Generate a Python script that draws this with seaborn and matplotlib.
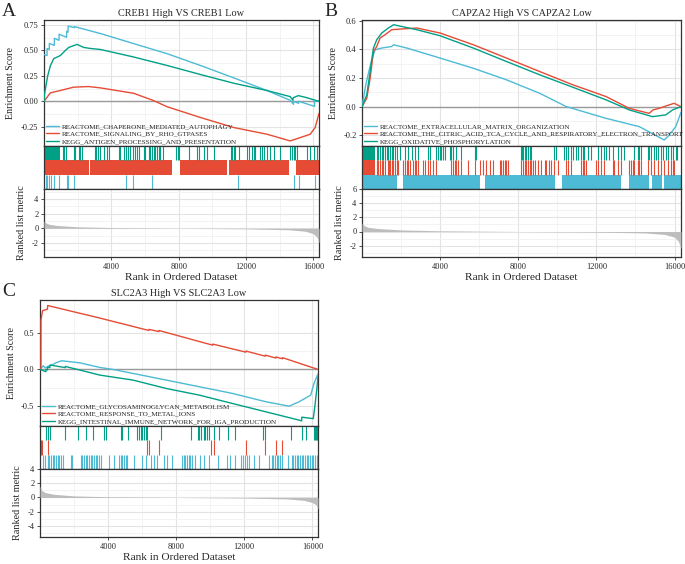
import numpy as np
import pandas as pd
import matplotlib
matplotlib.use("Agg")
import matplotlib.pyplot as plt
from matplotlib.ticker import MultipleLocator, FixedLocator
import seaborn as sns

# Paleta y estilo
sns.set_theme(style="whitegrid")
plt.rcParams['font.family'] = ['Liberation Serif', 'DejaVu Serif']
plt.rcParams['axes.unicode_minus'] = False

BLUE, RED, GREEN = '#4DBBD5', '#E64B35', '#00A087'
N_GENES = 16330

# ------------------------------------------------------------------
# Panel A : CREB1
a_title = "CREB1 High VS CREB1 Low"
a_sets = ["REACTOME_CHAPERONE_MEDIATED_AUTOPHAGY",
          "REACTOME_SIGNALING_BY_RHO_GTPASES",
          "KEGG_ANTIGEN_PROCESSING_AND_PRESENTATION"]

a_blue_rank = [1, 180, 185, 315, 320, 610, 620, 890, 900, 1340, 1350, 1425, 1435, 1800, 1810,
               3350, 5320, 7300, 9280, 11260, 13240, 14620, 14815, 14820, 15115, 15120, 16065, 16070, 16330]
a_blue_es = [0.46, 0.45, 0.52, 0.51, 0.57, 0.55, 0.62, 0.60, 0.66, 0.63, 0.69, 0.68, 0.74, 0.725, 0.735,
             0.667, 0.568, 0.469, 0.353, 0.231, 0.106, 0.01, -0.03, 0.0, -0.02, 0.0, -0.05, 0.0, 0.0]
a_red_rank = [1, 380, 970, 1760, 2650, 3350, 5320, 6510, 7300, 9280, 11260, 13240, 14620, 15220,
              15810, 16100, 16330]
a_red_es = [0.0, 0.083, 0.106, 0.139, 0.145, 0.132, 0.079, 0.007, -0.053, -0.159, -0.258, -0.324,
            -0.39, -0.357, -0.324, -0.258, -0.12]
a_green_rank = [1, 30, 220, 380, 580, 970, 1270, 1470, 1960, 2360, 2750, 3350, 5320, 7300, 9280,
                11260, 13240, 14620, 14780, 14800, 15100, 15500, 16330]
a_green_es = [0.0, 0.07, 0.25, 0.35, 0.42, 0.45, 0.50, 0.53, 0.56, 0.53, 0.52, 0.51, 0.436, 0.353,
              0.264, 0.178, 0.106, 0.046, 0.01, 0.035, 0.056, 0.04, 0.0]

a_green_hits = [1133, 1212, 1331, 1766, 1847, 2063, 2162, 2261, 3013, 3112, 3192, 3311, 3548, 3746,
                3845, 4439, 4538, 4776, 4895, 4974, 5093, 5291, 5430, 5529, 5648, 5925, 6024, 6242,
                6321, 6420, 6519, 6598, 6717, 6816, 6915, 7073, 7865, 7944, 8004, 8598, 9093, 9192,
                9489, 9687, 10082, 11112, 11191, 11270, 11369, 11567, 12062, 12161, 12359, 12458,
                12557, 12854, 12953, 13092, 13250, 13448, 13646, 14042, 14636, 14735, 14834, 14933,
                15032, 15626, 15824, 16022, 16220]
a_green_blocks = [(24, 974)]
a_red_hits = []
a_red_blocks = [(1, 2650), (2750, 7600), (8100, 10850), (10970, 14550), (14950, 16330)]
a_blue_hits = [101, 184, 320, 440, 617, 896, 1347, 1430, 1804, 4890, 5264, 6416, 11494, 14820,
               15117, 16067]
a_blue_blocks = []

a_metric_rank = [1, 100, 300, 800, 2000, 4000, 8000, 12000, 14500, 15500, 16000, 16200, 16330]
a_metric = [1.0, 0.75, 0.55, 0.38, 0.2, 0.1, 0.0, -0.08, -0.2, -0.4, -0.75, -1.2, -2.0]

# ------------------------------------------------------------------
# Panel B : CAPZA2
b_title = "CAPZA2 High VS CAPZA2 Low"
b_sets = ["REACTOME_EXTRACELLULAR_MATRIX_ORGANIZATION",
          "REACTOME_THE_CITRIC_ACID_TCA_CYCLE_AND_RESPIRATORY_ELECTRON_TRANSPORT",
          "KEGG_OXIDATIVE_PHOSPHORYLATION"]

b_blue_rank = [1, 194, 331, 499, 673, 1010, 1519, 1620, 2300, 4000, 5700, 7400, 9100, 10460, 12500,
               14200, 15470, 15720, 16060, 16330]
b_blue_es = [0.0, 0.152, 0.234, 0.327, 0.397, 0.409, 0.42, 0.432, 0.409, 0.339, 0.268, 0.187, 0.093,
             0.0, -0.082, -0.14, -0.233, -0.2, -0.14, -0.04]
b_red_rank = [1, 245, 418, 586, 755, 925, 1180, 1520, 2000, 2810, 4000, 5700, 7400, 9100, 10800,
              12500, 13680, 14700, 14900, 15215, 15720, 15980, 16330]
b_red_es = [0.0, 0.059, 0.199, 0.385, 0.42, 0.479, 0.502, 0.537, 0.542, 0.549, 0.514, 0.432, 0.339,
            0.245, 0.152, 0.07, -0.012, -0.047, -0.023, -0.012, 0.012, 0.023, 0.0]
b_green_rank = [1, 245, 418, 586, 755, 1010, 1350, 1620, 2810, 4000, 5700, 7400, 9100, 10800, 12500,
                13680, 14870, 15550, 15900, 16330]
b_green_es = [0.0, 0.082, 0.245, 0.409, 0.467, 0.514, 0.549, 0.572, 0.537, 0.495, 0.409, 0.315,
              0.222, 0.135, 0.047, -0.023, -0.07, -0.058, -0.023, 0.0]

b_green_hits = [747, 832, 917, 1002, 1088, 1173, 1258, 1343, 1428, 1513, 1598, 1683, 1768, 1939,
                2194, 2364, 2535, 2705, 2875, 3385, 3470, 3811, 3896, 3981, 4066, 4151, 4236, 4491,
                4577, 4662, 4832, 5087, 5768, 5853, 8117, 8185, 8253, 8321, 8407, 8492, 8577, 8662,
                9854, 9939, 10364, 10449, 10534, 10705, 10790, 10960, 11045, 11216, 11301, 11386,
                11556, 11726, 12066, 12237, 12407, 12492, 12662, 12833, 13088, 13258, 13428, 13939,
                14109, 14194, 14279, 14619, 14704, 14789, 14959, 15044, 15129, 15299, 15384, 15554,
                15640, 15810, 15895, 16065, 16150]
b_green_blocks = [(66, 662)]
b_red_hits = [747, 832, 917, 1002, 1088, 1173, 1343, 1377, 1428, 1513, 1598, 1683, 1768, 1854, 2109,
              2194, 2279, 2364, 2449, 2620, 2705, 2790, 2875, 3130, 3215, 3385, 3470, 3641, 3811,
              4577, 4662, 4747, 4832, 4917, 5087, 5428, 5768, 6023, 6193, 6364, 6534, 6704, 7045,
              7130, 7215, 7300, 7385, 7470, 8151, 8236, 8321, 8407, 8492, 8577, 8662, 8747, 8832,
              9002, 9173, 9343, 9428, 9598, 9684, 9854, 10024, 10449, 10534, 10705, 11216, 11301,
              11386, 11471, 11981, 12066, 12237, 12407, 12833, 12918, 13088, 13258, 13684, 13769,
              13854, 13939, 14109, 14194, 14279, 14619, 14789, 14959, 15129, 15299, 15469, 15640,
              15810, 15895, 15980]
b_red_blocks = [(66, 662)]
b_blue_hits = []
b_blue_blocks = [(15, 1770), (2110, 6030), (6280, 9860), (10250, 13260), (13680, 14700),
                 (14870, 15350), (15470, 16330)]

b_metric_rank = [1, 100, 300, 800, 2000, 4000, 8000, 12000, 14500, 15500, 16000, 16200, 16330]
b_metric = [1.2, 0.85, 0.6, 0.42, 0.22, 0.1, 0.0, -0.08, -0.2, -0.42, -0.8, -1.4, -2.4]

# ------------------------------------------------------------------
# Panel C : SLC2A3
c_title = "SLC2A3 High VS SLC2A3 Low"
c_sets = ["REACTOME_GLYCOSAMINOGLYCAN_METABOLISM",
          "REACTOME_RESPONSE_TO_METAL_IONS",
          "KEGG_INTESTINAL_IMMUNE_NETWORK_FOR_IGA_PRODUCTION"]

c_blue_rank = [1, 195, 312, 450, 740, 937, 1270, 2340, 3510, 4290, 7410, 9365, 11316, 13267, 14633,
               15218, 15900, 16095, 16330]
c_blue_es = [0.0, 0.05, 0.02, 0.04, 0.065, 0.09, 0.118, 0.09, 0.027, 0.0, -0.145, -0.236, -0.327,
             -0.44, -0.5, -0.44, -0.35, -0.19, -0.06]
c_red_rank = [1, 55, 60, 150, 440, 450, 3500, 6400, 6405, 6985, 6990, 10146, 10150, 12096, 12100,
              13228, 13232, 13852, 13856, 14242, 14246, 16330]
c_red_es = [0.0, 0.0, 0.67, 0.80, 0.82, 0.87, 0.70, 0.53, 0.545, 0.515, 0.53, 0.33, 0.345, 0.235,
            0.25, 0.18, 0.195, 0.155, 0.17, 0.145, 0.16, 0.0]
c_green_rank = [1, 350, 355, 445, 450, 580, 590, 1480, 1490, 2200, 3510, 5460, 7410, 9365, 11316,
                13267, 15218, 15370, 15380, 16050, 16120, 16270, 16330]
c_green_es = [0.0, -0.03, 0.0, -0.005, 0.03, 0.025, 0.06, 0.025, 0.04, 0.0, -0.077, -0.145, -0.259,
              -0.35, -0.464, -0.577, -0.69, -0.70, -0.65, -0.67, -0.55, -0.25, -0.1]

c_green_hits = [351, 449, 585, 1483, 2205, 2731, 3122, 3765, 3902, 4741, 4838, 5190, 5716, 5814,
                5912, 6009, 6107, 6204, 6302, 7082, 8897, 9287, 9365, 9482, 9619, 9716, 9814, 9911,
                10204, 10535, 11043, 11433, 13072, 13189, 14750, 15374, 15608, 16116, 16155, 16213,
                16272]
c_green_blocks = []
c_red_hits = [59, 117, 449, 6302, 6400, 6985, 10048, 10204, 12096, 13228, 13852, 14242]
c_red_blocks = []
c_blue_hits = [195, 312, 449, 546, 644, 741, 839, 937, 1034, 1132, 1229, 1327, 1814, 1873, 2400,
               2497, 2595, 2692, 2790, 2887, 2985, 3083, 3180, 3278, 3375, 3473, 3570, 4058, 4351,
               4643, 4741, 4838, 4936, 5034, 5131, 5521, 6009, 6204, 6497, 6692, 6887, 7277, 7472,
               7765, 8350, 8448, 8545, 8643, 8740, 8838, 8936, 9131, 9423, 9619, 9911, 10457, 10984,
               11179, 11472, 11823, 11901, 12018, 12155, 12253, 12545, 12838, 13423, 13618, 13716,
               13813, 13911, 14009, 14106, 14204, 14594, 14789, 14887, 14984, 15082, 15179, 15277,
               15374, 15472, 15569, 15667, 15764, 15862, 15959, 16057, 16155, 16252, 16320]
c_blue_blocks = []

c_metric_rank = [1, 100, 300, 800, 2000, 4000, 8000, 12000, 14500, 15500, 16000, 16200, 16330]
c_metric = [1.6, 1.0, 0.7, 0.45, 0.22, 0.1, 0.0, -0.08, -0.2, -0.4, -0.7, -1.0, -1.6]

# ------------------------------------------------------------------
W, H = 685, 564
fig = plt.figure(figsize=(W / 100, H / 100), dpi=100)
fig.patch.set_facecolor('white')


def caja(l, t, r, b):
    return [l / W, 1 - b / H, (r - l) / W, (b - t) / H]


def estilo(ax):
    for s in ax.spines.values():
        s.set_color('#333333')
        s.set_linewidth(0.9)
    ax.set_facecolor('white')


def panel(x0, x1, y0, title, sets, curvas, hits, blocks, m_rank, m_val,
          es_lim, es_ticks, es_fmt, m_lim, m_ticks):
    y1, y2, y3 = y0 + 126, y0 + 169, y0 + 237
    ax_es = fig.add_axes(caja(x0, y0, x1, y1))
    ax_hit = fig.add_axes(caja(x0, y1, x1, y2))
    ax_m = fig.add_axes(caja(x0, y2, x1, y3))

    # Curvas de enriquecimiento
    filas = []
    for nombre, (rk, es) in zip(sets, curvas):
        filas.append(pd.DataFrame({'rank': rk, 'es': es, 'set': nombre}))
    df = pd.concat(filas, ignore_index=True)
    estilo(ax_es)
    ax_es.axhline(0, color='#9a9a9a', lw=1.0, zorder=1)
    sns.lineplot(data=df, x='rank', y='es', hue='set', hue_order=sets,
                 palette=[BLUE, RED, GREEN], estimator=None, sort=False,
                 lw=1.0, ax=ax_es, zorder=3)
    h, l = ax_es.get_legend_handles_labels()
    ax_es.legend(h, l, loc='lower left', frameon=False, fontsize=5.15,
                 handlelength=1.9, handletextpad=0.4, labelspacing=0.2,
                 borderaxespad=0.15, borderpad=0.1)
    ax_es.set_xlim(1, N_GENES)
    ax_es.set_ylim(*es_lim)
    ax_es.set_yticks(es_ticks)
    ax_es.set_yticklabels([es_fmt.format(v) for v in es_ticks])
    ax_es.yaxis.set_minor_locator(FixedLocator(
        [(a + b) / 2 for a, b in zip(es_ticks[:-1], es_ticks[1:])]))
    ax_es.xaxis.set_major_locator(MultipleLocator(4000))
    ax_es.xaxis.set_minor_locator(MultipleLocator(2000))
    ax_es.set_xticklabels([])
    ax_es.set_xlabel('')
    ax_es.set_ylabel('Enrichment Score', fontsize=7.2)
    ax_es.set_title(title, fontsize=7.4, pad=3)

    # Posiciones de los genes
    estilo(ax_hit)
    ax_hit.grid(False)
    for fila, (hh, bb, c) in enumerate(zip(hits[::-1], blocks[::-1], [GREEN, RED, BLUE])):
        ytop = 3 - fila
        if hh:
            ax_hit.vlines(hh, ytop - 1, ytop, color=c, lw=0.8)
        if bb:
            ax_hit.broken_barh([(s, e - s) for s, e in bb], (ytop - 1, 1), color=c, lw=0)
    ax_hit.set_xlim(1, N_GENES)
    ax_hit.set_ylim(0, 3)
    ax_hit.set_xticks([])
    ax_hit.set_yticks([])

    # Métrica de la lista ordenada
    estilo(ax_m)
    ax_m.fill_between(m_rank, 0, m_val, color='#bdbdbd', lw=0, zorder=3)
    ax_m.set_xlim(1, N_GENES)
    ax_m.set_ylim(*m_lim)
    ax_m.set_yticks(m_ticks)
    ax_m.set_yticklabels([str(v) for v in m_ticks])
    ax_m.yaxis.set_minor_locator(MultipleLocator(1))
    ax_m.xaxis.set_major_locator(FixedLocator([4000, 8000, 12000, 16000]))
    ax_m.xaxis.set_minor_locator(MultipleLocator(2000))
    ax_m.set_xlabel('Rank in Ordered Dataset', fontsize=8.2, labelpad=2)
    ax_m.set_ylabel('Ranked list metric', fontsize=7.3)

    for ax in (ax_es, ax_m):
        ax.grid(True, which='major', color='#e3e3e3', lw=0.8)
        ax.grid(True, which='minor', color='#efefef', lw=0.5)
        ax.set_axisbelow(True)
        ax.tick_params(axis='both', which='major', labelsize=6, length=2.5, width=0.6,
                       color='#333333', pad=1.5, left=True, bottom=True)
        ax.tick_params(axis='both', which='minor', length=0)
    ax_es.tick_params(axis='x', which='major', length=0)
    return ax_es


panel(44, 319, 20, a_title, a_sets,
      [(a_blue_rank, a_blue_es), (a_red_rank, a_red_es), (a_green_rank, a_green_es)],
      [a_blue_hits, a_red_hits, a_green_hits], [a_blue_blocks, a_red_blocks, a_green_blocks],
      a_metric_rank, a_metric, (-0.44, 0.80), [-0.25, 0.0, 0.25, 0.5, 0.75], '{:.2f}',
      (-3.95, 5.4), [-2, 0, 2, 4])

panel(362, 681, 20, b_title, b_sets,
      [(b_blue_rank, b_blue_es), (b_red_rank, b_red_es), (b_green_rank, b_green_es)],
      [b_blue_hits, b_red_hits, b_green_hits], [b_blue_blocks, b_red_blocks, b_green_blocks],
      b_metric_rank, b_metric, (-0.275, 0.605), [-0.2, 0.0, 0.2, 0.4, 0.6], '{:.1f}',
      (-3.6, 6.0), [-2, 0, 2, 4, 6])

panel(40, 318, 300, c_title, c_sets,
      [(c_blue_rank, c_blue_es), (c_red_rank, c_red_es), (c_green_rank, c_green_es)],
      [c_blue_hits, c_red_hits, c_green_hits], [c_blue_blocks, c_red_blocks, c_green_blocks],
      c_metric_rank, c_metric, (-0.77, 0.945), [-0.5, 0.0, 0.5], '{:.1f}',
      (-5.55, 4.0), [-4, -2, 0, 2, 4])

fig.text(2 / W, 1 - 3 / H, 'A', fontsize=14, va='top', ha='left')
fig.text(324 / W, 1 - 3 / H, 'B', fontsize=14, va='top', ha='left')
fig.text(2 / W, 1 - 283 / H, 'C', fontsize=14, va='top', ha='left')

fig.savefig('out.png', dpi=100, facecolor='white')
plt.close()
